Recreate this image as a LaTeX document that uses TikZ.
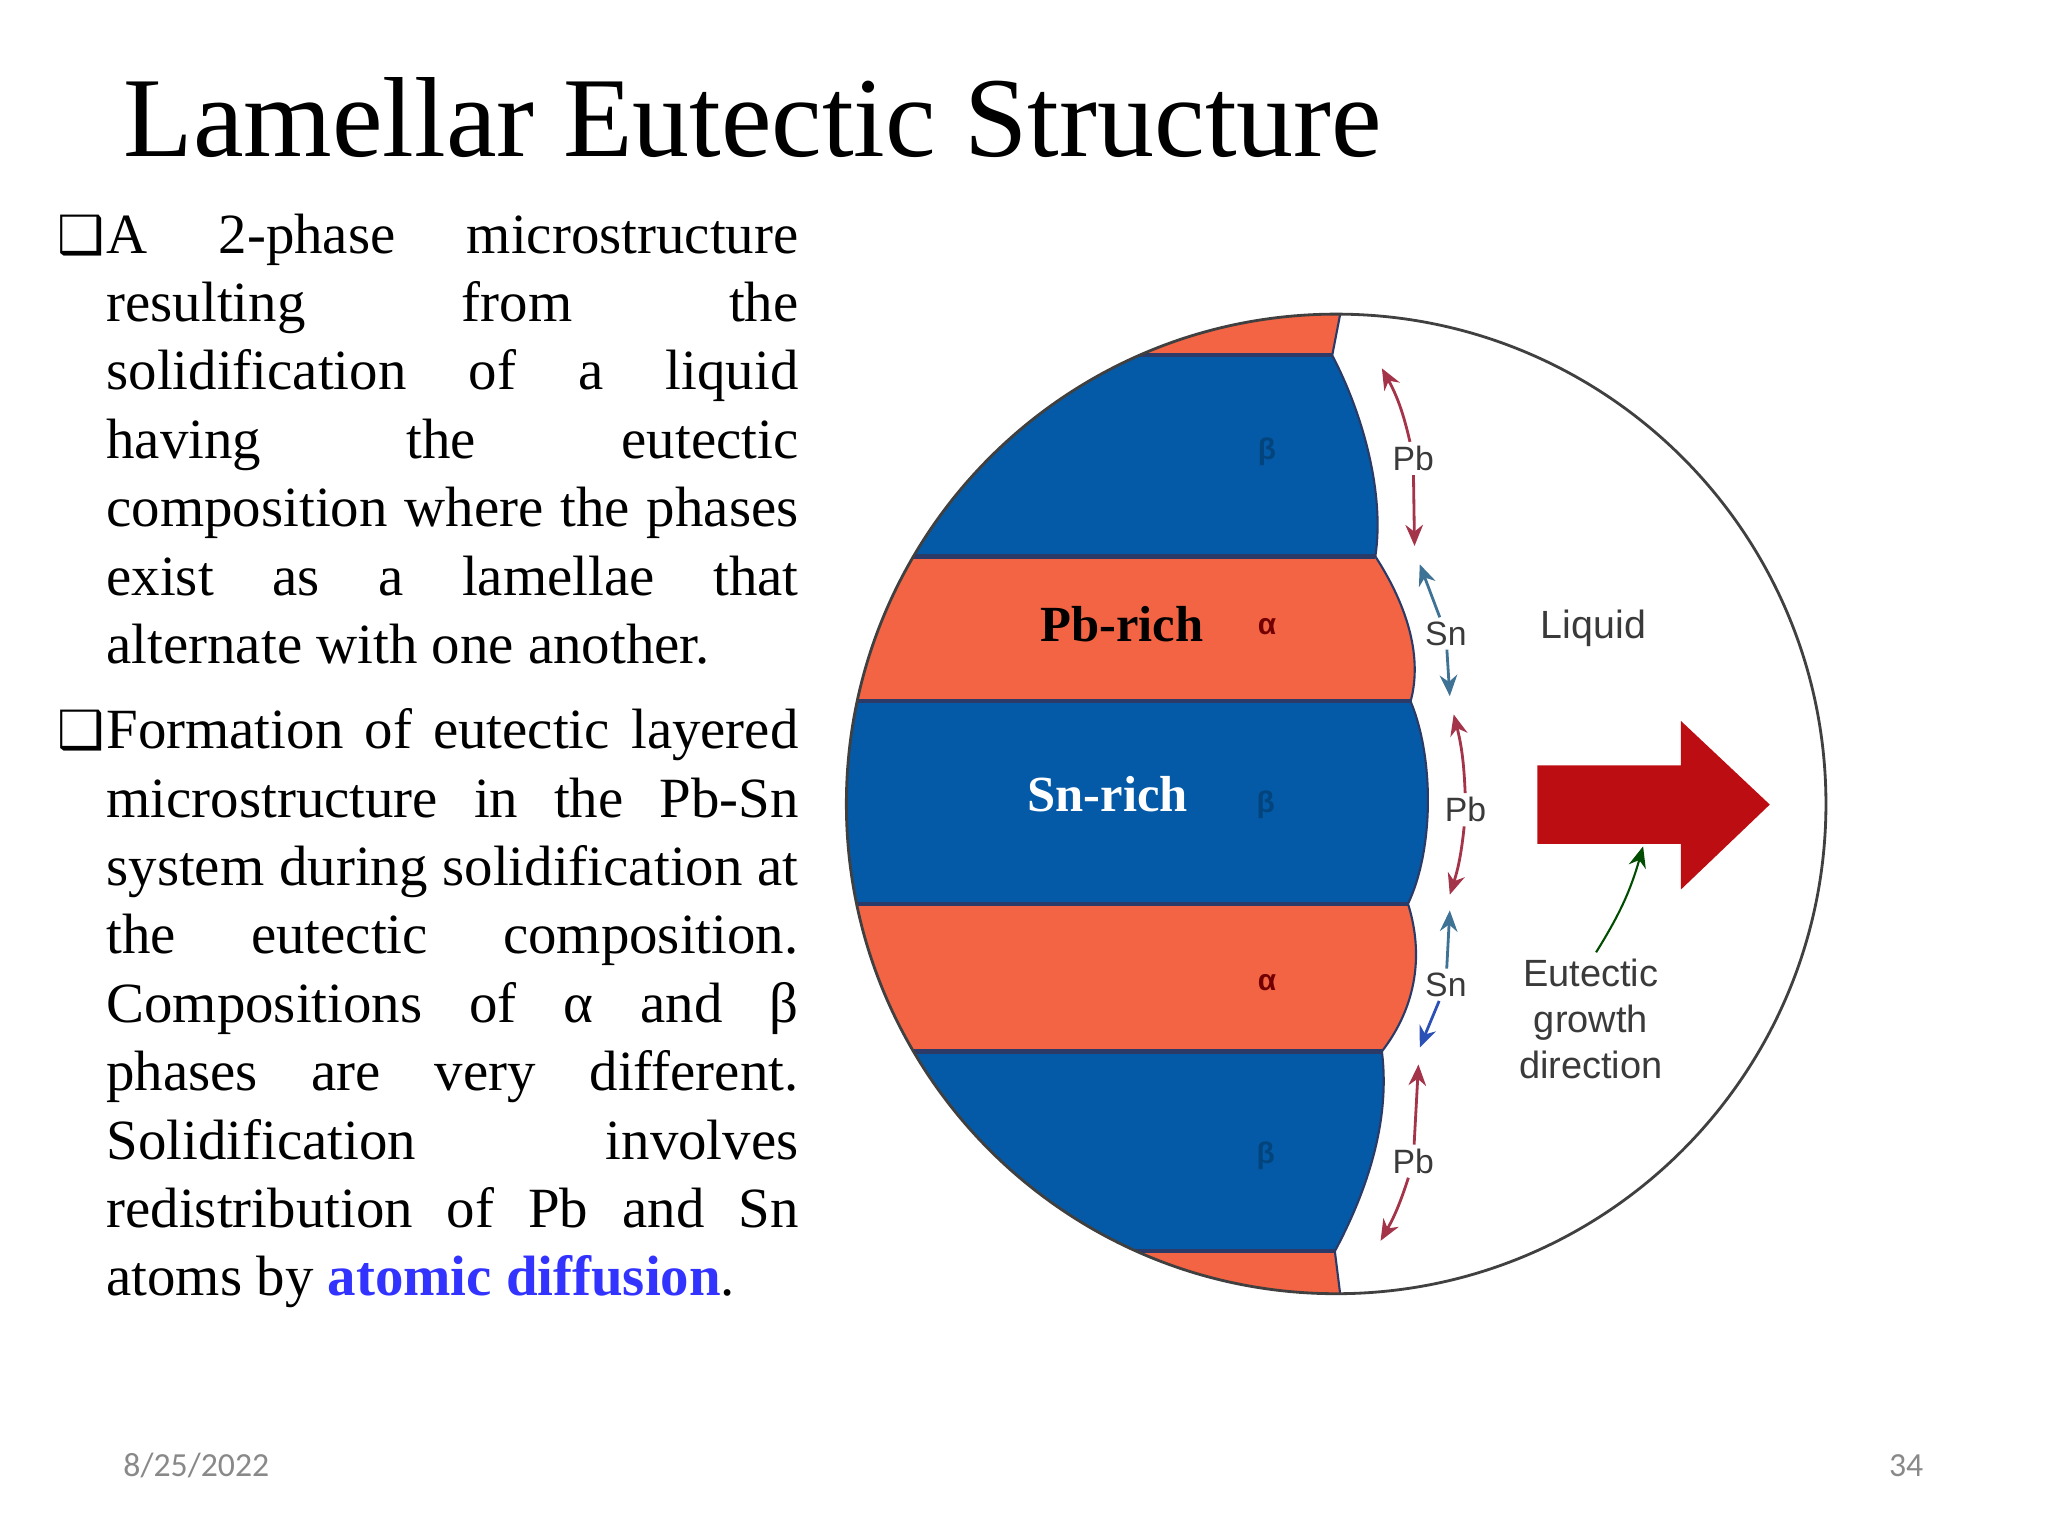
\documentclass[tikz,border=0pt]{standalone}
\usepackage{fontspec}
\setmainfont{Liberation Serif}
\newfontfamily\lblfont{Liberation Sans}
\newfontfamily\footfont{Carlito}
\newfontfamily\symfont{DejaVu Sans}
\usetikzlibrary{arrows.meta}
\definecolor{orangeph}{HTML}{F26443}
\definecolor{bluph}{HTML}{045AA6}
\definecolor{edgeph}{HTML}{2B3A66}
\definecolor{redarr}{HTML}{BC0D12}
\definecolor{pbarrow}{HTML}{A3344A}
\definecolor{snarrow}{HTML}{3F7396}
\definecolor{difblue}{HTML}{3333FF}
\definecolor{footgray}{HTML}{898989}
\definecolor{smalltext}{HTML}{3A3A3A}
\hyphenpenalty=10000
\exhyphenpenalty=10000
\tolerance=9999
\tikzset{
  titletext/.style={anchor=west,inner sep=0pt,font=\fontsize{32.4}{38}\selectfont},
  body/.style={anchor=north west,inner sep=0pt,text width=6.92cm,align=justify,font=\fontsize{16.18}{19.46}\selectfont},
  bulletmark/.style={anchor=center,inner sep=0pt,font=\symfont\bfseries\fontsize{15}{15}\selectfont},
  smalllbl/.style={inner sep=1pt,text=smalltext,font=\lblfont\fontsize{9.6}{11}\selectfont},
  greek/.style={inner sep=0pt,font=\lblfont\bfseries\fontsize{8.5}{9}\selectfont},
  phaselbl/.style={inner sep=0pt,font=\bfseries\fontsize{14.4}{16}\selectfont},
  foot/.style={inner sep=0pt,text=footgray,font=\footfont\fontsize{9.6}{11}\selectfont},
  difarrow/.style={line width=0.8pt,-{Stealth[length=6pt,width=5pt]}},
}
\begin{document}
\begin{tikzpicture}[x=0.013061cm,y=-0.013061cm]
\useasboundingbox (0,0) rectangle (1568,1176);
\node[titletext] (title) at (94,90) {Lamellar Eutectic Structure};
\node[bulletmark] (bulA) at (62,180) {❑};
\node[body] (paraA) at (81,163) {A 2-phase microstructure\linebreak
resulting from the\linebreak
solidification of a liquid\linebreak
having the eutectic\linebreak
composition where the phases\linebreak
exist as a lamellae that\linebreak
alternate with one another.};
\node[bulletmark] (bulB) at (62,559) {❑};
\node[body] (paraB) at (81,542) {Formation of eutectic layered\linebreak
microstructure in the Pb-Sn\linebreak
system during solidification at\linebreak
the eutectic composition.\linebreak
Compositions of α and β\linebreak
phases are very different.\linebreak
Solidification involves\linebreak
redistribution of Pb and Sn\linebreak
atoms by \textbf{\textcolor{difblue}{atomic diffusion}}.};
% phases
\begin{scope}
\clip (1023,615.5) circle (375);
\fill[orangeph] (640,230) -- (1026,230) -- (1026,241) -- (1020,272) -- (640,272) -- cycle;
\fill[bluph] (640,272) -- (1020,272) .. controls (1045,320) and (1060,380) .. (1053,426) -- (640,426) -- cycle;
\fill[orangeph] (640,426) -- (1053,426) .. controls (1075,460) and (1090,500) .. (1080,537) -- (640,537) -- cycle;
\fill[bluph] (640,537) -- (1080,537) .. controls (1098,580) and (1098,650) .. (1078,692) -- (640,692) -- cycle;
\fill[orangeph] (640,692) -- (1078,692) .. controls (1090,730) and (1085,770) .. (1058,805) -- (640,805) -- cycle;
\fill[bluph] (640,805) -- (1058,805) .. controls (1065,860) and (1045,915) .. (1022,958) -- (640,958) -- cycle;
\fill[orangeph] (640,958) -- (1022,958) -- (1026,990) -- (1026,1000) -- (640,1000) -- cycle;
\foreach \yy/\xe in {272/1020,426/1053,537/1080,692/1078,805/1058,958/1022}
  \draw[edgeph,line width=1.2pt] (640,\yy) -- (\xe,\yy);
\draw[edgeph,line width=0.6pt] (1026,241) -- (1020,272) .. controls (1045,320) and (1060,380) .. (1053,426)
  .. controls (1075,460) and (1090,500) .. (1080,537)
  .. controls (1098,580) and (1098,650) .. (1078,692)
  .. controls (1090,730) and (1085,770) .. (1058,805)
  .. controls (1065,860) and (1045,915) .. (1022,958) -- (1026,990);
\end{scope}
\draw[black!75,line width=0.8pt] (1023,615.5) circle (375);
% growth arrow
\fill[redarr] (1177,586) -- (1287,586) -- (1287,552) -- (1355,616) -- (1287,681) -- (1287,646) -- (1177,646) -- cycle;
% greek
\node[greek,text=bluph!75!black] (betaA) at (970,346) {β};
\node[greek,text=red!45!black] (alphaA) at (970,480) {α};
\node[greek,text=bluph!75!black] (betaB) at (969,616) {β};
\node[greek,text=red!45!black] (alphaB) at (970,752) {α};
\node[greek,text=bluph!75!black] (betaC) at (969,885) {β};
\node[phaselbl,text=black] (pbrich) at (859,478) {Pb-rich};
\node[phaselbl,text=white] (snrich) at (848,608) {Sn-rich};
% small labels
\node[smalllbl] (pbA) at (1082,351) {Pb};
\node[smalllbl] (snA) at (1107,485) {Sn};
\node[smalllbl] (pbB) at (1122,620) {Pb};
\node[smalllbl] (snB) at (1107,754) {Sn};
\node[smalllbl] (pbC) at (1082,889) {Pb};
\node[smalllbl,font=\lblfont\fontsize{11.2}{13}\selectfont] (liquid) at (1220,481) {Liquid};
\node[smalllbl,align=center,font=\lblfont\fontsize{10.8}{13}\selectfont] (growth) at (1218,780) {Eutectic\\growth\\direction};
\coordinate (pbAu) at (1058,282);
\coordinate (pbAd) at (1083,418);
\coordinate (snAu) at (1087,432);
\coordinate (snAd) at (1110,533);
\coordinate (pbBu) at (1113,547);
\coordinate (pbBd) at (1110,685);
\coordinate (snBu) at (1110,697);
\coordinate (snBd) at (1087,802);
\coordinate (pbCu) at (1086,815);
\coordinate (pbCd) at (1057,950);
\coordinate (growtharrow) at (1258,648);
\draw[difarrow,pbarrow] (pbA) to[bend right=8] (pbAu);
\draw[difarrow,pbarrow] (pbA) -- (pbAd);
\draw[difarrow,snarrow] (snA) -- (snAu);
\draw[difarrow,snarrow] (snA) -- (snAd);
\draw[difarrow,pbarrow] (pbB) to[bend right=6] (pbBu);
\draw[difarrow,pbarrow] (pbB) to[bend left=6] (pbBd);
\draw[difarrow,snarrow] (snB) -- (snBu);
\draw[difarrow,snarrow!70!blue] (snB) -- (snBd);
\draw[difarrow,pbarrow] (pbC) -- (pbCu);
\draw[difarrow,pbarrow] (pbC) to[bend left=6] (pbCd);
\draw[difarrow,black!70!green,line width=0.6pt] (growth.north) ++(4,-2) to[bend right=8] (growtharrow);
% footer
\node[foot,anchor=west] (date) at (94,1122) {8/25/2022};
\node[foot,anchor=east] (page) at (1473,1122) {34};
\end{tikzpicture}
\end{document}
